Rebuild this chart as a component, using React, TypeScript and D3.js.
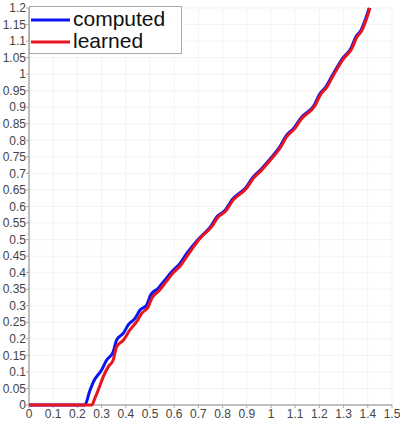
import React, { useEffect } from "react";
import * as d3 from "d3";

const width = 400;
const height = 423;
const margin = { top: 8, right: 8, bottom: 18, left: 29 };

const xTicks = [0, 0.1, 0.2, 0.3, 0.4, 0.5, 0.6, 0.7, 0.8, 0.9, 1, 1.1, 1.2, 1.3, 1.4, 1.5];
const yTicks = [
  0, 0.05, 0.1, 0.15, 0.2, 0.25, 0.3, 0.35, 0.4, 0.45, 0.5, 0.55, 0.6, 0.65, 0.7, 0.75,
  0.8, 0.85, 0.9, 0.95, 1, 1.05, 1.1, 1.15, 1.2,
];

// series: [x, y]
const computed: [number, number][] = [
  [0, 0], [0.231, 0], [0.25, 0.04], [0.266, 0.07], [0.3, 0.106], [0.321, 0.136],
  [0.348, 0.161], [0.362, 0.196], [0.39, 0.217], [0.41, 0.242], [0.438, 0.262],
  [0.459, 0.287], [0.486, 0.302], [0.503, 0.333], [0.534, 0.353], [0.562, 0.378],
  [0.59, 0.403], [0.624, 0.428], [0.652, 0.458], [0.7, 0.501], [0.752, 0.541],
  [0.779, 0.571], [0.807, 0.586], [0.841, 0.622], [0.896, 0.657], [0.924, 0.687],
  [0.958, 0.712], [1.0, 0.747], [1.034, 0.778], [1.062, 0.813], [1.096, 0.838],
  [1.124, 0.868], [1.179, 0.907], [1.199, 0.937], [1.227, 0.962], [1.254, 0.997],
  [1.296, 1.048], [1.33, 1.078], [1.351, 1.113], [1.372, 1.133], [1.406, 1.2],
];

const learned: [number, number][] = [
  [0, 0], [0.259, 0], [0.272, 0.02], [0.286, 0.045], [0.307, 0.086], [0.328, 0.116],
  [0.348, 0.136], [0.362, 0.176], [0.39, 0.196], [0.417, 0.227], [0.445, 0.252],
  [0.466, 0.277], [0.493, 0.297], [0.507, 0.322], [0.537, 0.345], [0.566, 0.372],
  [0.594, 0.398], [0.628, 0.423], [0.656, 0.453], [0.707, 0.504], [0.755, 0.539],
  [0.782, 0.569], [0.81, 0.584], [0.844, 0.62], [0.899, 0.655], [0.927, 0.685],
  [0.961, 0.71], [1.003, 0.745], [1.037, 0.776], [1.065, 0.811], [1.099, 0.836],
  [1.127, 0.866], [1.182, 0.905], [1.202, 0.935], [1.23, 0.96], [1.257, 0.995],
  [1.299, 1.046], [1.333, 1.076], [1.354, 1.111], [1.375, 1.131], [1.409, 1.2],
];

const series = [
  { name: "computed", color: "#0a14f0", values: computed },
  { name: "learned", color: "#e8141e", values: learned },
];

const x = d3.scaleLinear([0, 1.5], [margin.left, width - margin.right]);
const y = d3.scaleLinear([0, 1.2], [height - margin.bottom, margin.top]);

const line = d3
  .line<[number, number]>()
  .x((d) => x(d[0]))
  .y((d) => y(d[1]))
  .curve(d3.curveMonotoneX);

const font = "'Liberation Sans', Arial, sans-serif";

export default function App() {
  useEffect(() => {
    document.body.style.margin = "0";
  }, []);

  return (
    <svg width={width} height={height} style={{ display: "block", background: "#fff" }}>
      {/* grid */}
      <g stroke="#f3f3f3" strokeWidth={1}>
        {xTicks.slice(1).map((t) => (
          <line key={"gx" + t} x1={x(t)} x2={x(t)} y1={y(0)} y2={y(1.2)} />
        ))}
        {yTicks.slice(1).map((t) => (
          <line key={"gy" + t} x1={x(0)} x2={x(1.5)} y1={y(t)} y2={y(t)} />
        ))}
      </g>

      {/* axes */}
      <g stroke="#aaa" strokeWidth={1.5}>
        <line x1={x(0)} x2={x(0)} y1={y(0)} y2={y(1.2)} />
        <line x1={x(0)} x2={x(1.5)} y1={y(0)} y2={y(0)} />
        {xTicks.map((t) => (
          <line key={"tx" + t} x1={x(t)} x2={x(t)} y1={y(0)} y2={y(0) + 3} strokeWidth={1} />
        ))}
        {yTicks.map((t) => (
          <line key={"ty" + t} x1={x(0) - 3} x2={x(0)} y1={y(t)} y2={y(t)} strokeWidth={1} />
        ))}
      </g>
      <g fontFamily={font} fontSize={12} fill="#444">
        {xTicks.map((t) => (
          <text key={"lx" + t} x={x(t)} y={y(0) + 13} textAnchor="middle">
            {d3.format("~g")(t)}
          </text>
        ))}
        {yTicks.map((t) => (
          <text key={"ly" + t} x={x(0) - 3} y={y(t)} dy="0.35em" textAnchor="end">
            {d3.format("~g")(t)}
          </text>
        ))}
      </g>

      {/* curves */}
      {series.map((s) => (
        <path key={s.name} d={line(s.values) ?? ""} fill="none" stroke={s.color} strokeWidth={3} />
      ))}

      {/* legend */}
      <g>
        <rect x={29.5} y={6.5} width={152} height={47} fill="#fff" stroke="#aaa" strokeWidth={1} />
        {series.map((s, i) => (
          <g key={"lg" + s.name} transform={`translate(0,${20 + i * 22})`}>
            <line x1={31} x2={70} y1={0} y2={0} stroke={s.color} strokeWidth={3} />
            <text x={73} y={6} fontFamily={font} fontSize={21} fill="#111">
              {s.name}
            </text>
          </g>
        ))}
      </g>
    </svg>
  );
}
